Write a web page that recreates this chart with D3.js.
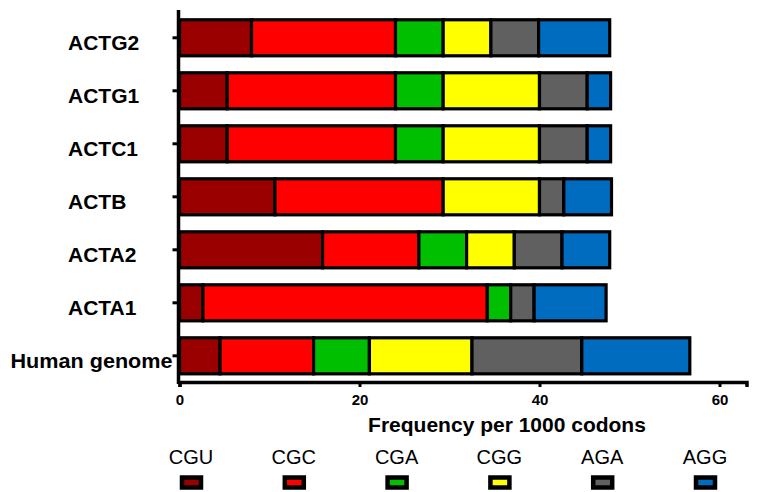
<!DOCTYPE html>
<html>
<head>
<meta charset="utf-8">
<script src="https://cdn.jsdelivr.net/npm/d3@7"></script>
<style>
  body { margin: 0; background: #fff; }
  svg { font-family: "Liberation Sans", Arial, sans-serif; }
</style>
</head>
<body>
<div class="viz"></div>
<script>
const width = 761;
const height = 492;

// genes (top to bottom) and codons (left to right in each bar)
const categories = ["ACTG2", "ACTG1", "ACTC1", "ACTB", "ACTA2", "ACTA1", "Human genome"];
const codons = ["CGU", "CGC", "CGA", "CGG", "AGA", "AGG"];
const colors = ["#9a0000", "#ff0000", "#00bf00", "#ffff00", "#606060", "#006cc0"];

// frequency per 1000 codons, one array per codon
const cgu = [8.0, 5.3, 5.3, 10.6, 15.9, 2.6, 4.5];
const cgc = [16.0, 18.7, 18.7, 18.7, 10.7, 31.6, 10.4];
const cga = [5.3, 5.3, 5.3, 0, 5.3, 2.6, 6.2];
const cgg = [5.3, 10.7, 10.7, 10.7, 5.3, 0, 11.4];
const aga = [5.3, 5.3, 5.3, 2.7, 5.3, 2.6, 12.2];
const agg = [7.9, 2.6, 2.6, 5.3, 5.3, 8.0, 12.0];

const xTicks = [0, 20, 40, 60];

const table = categories.map((name, i) => ({
  name,
  CGU: cgu[i], CGC: cgc[i], CGA: cga[i], CGG: cgg[i], AGA: aga[i], AGG: agg[i],
}));

const series = d3.stack().keys(codons)(table);

const svg = d3.select(".viz")
  .append("svg")
  .attr("width", width)
  .attr("height", height);

const x = d3.scaleLinear().domain([0, 63]).range([179.5, 746.5]);
const y = d3.scaleBand().domain(categories).range([2.8, 390.8]).padding(0.32);
const color = d3.scaleOrdinal().domain(codons).range(colors);

// bars
svg.append("g")
  .selectAll("g")
  .data(series)
  .join("g")
  .attr("fill", d => color(d.key))
  .selectAll("rect")
  .data(d => d.filter(s => s[1] - s[0] > 0))
  .join("rect")
  .attr("x", d => x(d[0]))
  .attr("y", d => y(d.data.name))
  .attr("width", d => x(d[1]) - x(d[0]))
  .attr("height", y.bandwidth())
  .attr("stroke", "#000")
  .attr("stroke-width", 3.2);

// x axis
const xAxis = svg.append("g")
  .attr("transform", "translate(0,382)")
  .call(d3.axisBottom(x).tickValues(xTicks).tickFormat(d3.format("d")).tickSize(5).tickPadding(7));
xAxis.select(".domain").attr("stroke-width", 3.5);
xAxis.selectAll(".tick line").attr("stroke-width", 3);
xAxis.selectAll(".tick text")
  .attr("font-size", 15)
  .attr("font-weight", "bold")
  .attr("font-family", "Liberation Sans, Arial, sans-serif")
  .attr("fill", "#000");

// y axis
const yAxis = svg.append("g")
  .attr("transform", `translate(${x(0) - 1},0)`)
  .call(d3.axisLeft(y).tickSize(6).tickPadding(4));
yAxis.select(".domain").remove();
yAxis.append("line")
  .attr("y1", 10)
  .attr("y2", 384)
  .attr("stroke", "#000")
  .attr("stroke-width", 3.5);
yAxis.selectAll(".tick line").attr("stroke-width", 3);
yAxis.selectAll(".tick text")
  .attr("font-size", 21)
  .attr("font-weight", "bold")
  .attr("font-family", "Liberation Sans, Arial, sans-serif")
  .attr("fill", "#000")
  .attr("dy", "0.6em")
  .each(function (d) {
    const t = d3.select(this);
    if (d.length < 8) t.attr("text-anchor", "start").attr("x", 69 - x(0));
    else t.attr("x", -6).attr("textLength", 162).attr("lengthAdjust", "spacingAndGlyphs");
  });

// axis title
svg.append("text")
  .attr("x", 507)
  .attr("y", 432)
  .attr("text-anchor", "middle")
  .attr("font-size", 21)
  .attr("font-weight", "bold")
  .text("Frequency per 1000 codons");

// legend
const lx = d3.scalePoint().domain(codons).range([191, 705]);
const legend = svg.append("g")
  .selectAll("g")
  .data(codons)
  .join("g")
  .attr("transform", d => `translate(${lx(d)},0)`);

legend.append("text")
  .attr("y", 464)
  .attr("text-anchor", "middle")
  .attr("font-size", 20)
  .text(d => d);

legend.append("rect")
  .attr("x", -9)
  .attr("y", 477.5)
  .attr("width", 19)
  .attr("height", 10)
  .attr("fill", d => color(d))
  .attr("stroke", "#000")
  .attr("stroke-width", 4.5);
</script>
</body>
</html>
